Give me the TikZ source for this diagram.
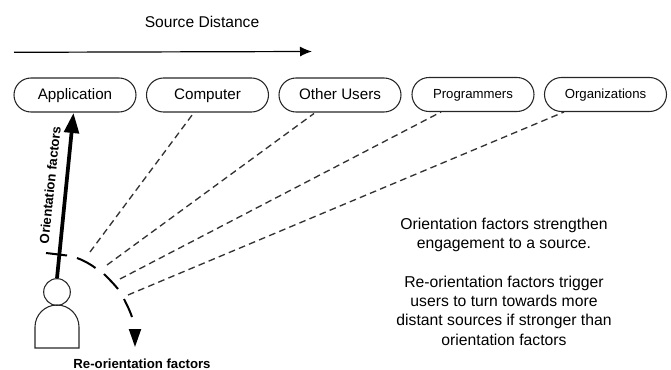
\documentclass[tikz,border=0pt]{standalone}
\usepackage{fontspec}
\setmainfont{Liberation Sans}
\usetikzlibrary{shapes.misc,arrows.meta}
\tikzset{
  pill/.style={draw=black!85,line width=0.8pt,rounded rectangle,minimum width=91.5pt,minimum height=25.5pt,inner sep=0pt,text height=8.2pt,text depth=1.4pt,font=\fontsize{11.4}{13}\selectfont},
  pillsmall/.style={pill,text depth=2.3pt,font=\fontsize{9.9}{12}\selectfont},
  link/.style={draw=black!80,line width=1pt,dash pattern=on 5pt off 3.2pt},
  reorient/.style={draw=black,line width=1.5pt},
  lab/.style={inner sep=0pt,font=\fontsize{11.7}{14}\selectfont}
}
\begin{document}
\begin{tikzpicture}[x=0.75pt,y=-0.75pt]
\useasboundingbox (0,0) rectangle (671,370);
\node[lab] (title) at (202,21.5) {Source Distance};
\coordinate (dstart) at (14,52.3);
\coordinate (dend) at (312,51.5);
\draw[line width=0.9pt,-{Latex[length=9pt,width=7.5pt]}] (dstart) -- (dend);
\node[pill] (app) at (75,95) {Application};
\node[pill] (comp) at (207.5,95) {Computer};
\node[pill] (other) at (340,95) {Other Users};
\node[pillsmall] (prog) at (473,94.5) {Programmers};
\node[pillsmall] (org) at (605.5,94.5) {Organizations};
% person
\node[draw=black!85,line width=0.8pt,circle,minimum size=20pt,inner sep=0pt] (head) at (57,292) {};
\draw[draw=black!85,line width=0.8pt] (35,348) -- (35,327) arc[start angle=180,end angle=360,radius=22] -- (79,348) -- cycle;
% links
\coordinate (l1a) at (90,252); \coordinate (l1b) at (194,112.5);
\coordinate (l2a) at (107,265); \coordinate (l2b) at (314,113.5);
\coordinate (l3a) at (120,279); \coordinate (l3b) at (441,112);
\coordinate (l4a) at (128,295); \coordinate (l4b) at (564,112);
\draw[link] (l1a) -- (l1b);
\draw[link] (l2a) -- (l2b);
\draw[link] (l3a) -- (l3b);
\draw[link] (l4a) -- (l4b);
% orientation arrow
\coordinate (tip) at (73.5,113);
\draw[line width=2.8pt,-{Triangle[length=15pt,width=11pt]}] (head.north) -- (tip);
\node[lab,rotate=84,font=\bfseries\fontsize{9.9}{11}\selectfont] (olab) at (50,185) {Orientation factors};
% re-orientation arc
\coordinate (t1) at (46,253); \coordinate (t2) at (67,255.5);
\draw[reorient] (t1) -- (t2);
\coordinate (a1) at (77,258); \coordinate (a2) at (95.5,268);
\coordinate (b1) at (104,274); \coordinate (b2) at (118,289);
\coordinate (c1) at (124,299); \coordinate (c2) at (132,317);
\draw[reorient] (a1) .. controls (84,260.5) and (90,264) .. (a2);
\draw[reorient] (b1) .. controls (109,279) and (114,284) .. (b2);
\draw[reorient] (c1) .. controls (127,305) and (130,311) .. (c2);
\coordinate (h1) at (135,329.5); \coordinate (h2) at (135,347);
\draw[-{Triangle[length=13.5pt,width=9pt]},line width=1.5pt] (h1) -- (h2);
\node[lab,font=\bfseries\fontsize{9.9}{12}\selectfont] (rlab) at (142,364) {Re-orientation factors};
\node[lab,align=center,font=\fontsize{11.8}{14.5}\selectfont] (txt) at (504,281.5) {Orientation factors strengthen\\engagement to a source.\\[14.5pt]Re-orientation factors trigger\\users to turn towards more\\distant sources if stronger than\\orientation factors};
\end{tikzpicture}
\end{document}
